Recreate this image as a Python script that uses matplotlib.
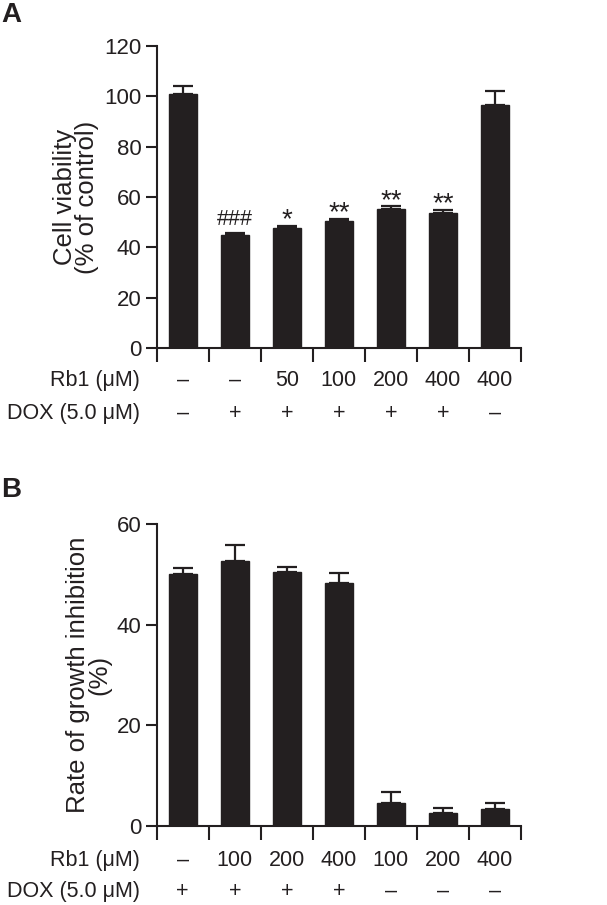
import matplotlib
matplotlib.use("Agg")
import matplotlib.pyplot as plt
import numpy as np

plt.rcParams['font.family'] = ['Liberation Sans', 'DejaVu Sans']

# Panel A data
a_means = [100.8, 45.1, 47.9, 50.6, 55.2, 53.7, 96.5]
a_errs = [3.2, 0.5, 0.6, 0.7, 1.1, 1.3, 5.6]
a_rb1 = ['–', '–', '50', '100', '200', '400', '400']
a_dox = ['–', '+', '+', '+', '+', '+', '–']
a_sig = ['', '###', '*', '**', '**', '**', '']

# Panel B data
b_means = [50.2, 52.8, 50.6, 48.4, 4.6, 2.6, 3.4]
b_errs = [1.2, 3.0, 0.9, 1.9, 2.1, 0.9, 1.1]
b_rb1 = ['–', '100', '200', '400', '100', '200', '400']
b_dox = ['+', '+', '+', '+', '–', '–', '–']

W, H = 607, 905
fig = plt.figure(figsize=(W/100, H/100), dpi=100)
col = '#231f20'

def px_axes(x0, y0, x1, y1):
    return fig.add_axes([x0/W, 1 - y1/H, (x1-x0)/W, (y1-y0)/H])

def draw(ax, means, errs, ymax, yticks, ylabel):
    x = np.arange(len(means))
    ax.bar(x, means, width=0.54, color=col, edgecolor=col, zorder=2)
    ax.errorbar(x, means, yerr=[np.zeros(len(errs)), errs], fmt='none',
                ecolor=col, elinewidth=1.6, capsize=7, capthick=1.6, zorder=1)
    ax.set_xlim(-0.5, len(means) - 0.5)
    ax.set_ylim(0, ymax)
    ax.set_yticks(yticks)
    ax.set_xticks(np.arange(len(means) + 1) - 0.5)
    ax.set_xticklabels([])
    for s in ['top', 'right']:
        ax.spines[s].set_visible(False)
    for s in ['left', 'bottom']:
        ax.spines[s].set_linewidth(1.5)
        ax.spines[s].set_color(col)
    ax.tick_params(axis='y', length=8, width=1.5, labelsize=16, pad=3, colors=col)
    ax.tick_params(axis='x', length=10, width=1.5, colors=col)
    ax.set_ylabel(ylabel, fontsize=18.5, labelpad=4, linespacing=0.85, color=col)

axA = px_axes(156.7, 45.7, 521, 348.3)
draw(axA, a_means, a_errs, 120, [0, 20, 40, 60, 80, 100, 120],
     'Cell viability\n(% of control)')
axB = px_axes(156.7, 524.3, 521, 826)
draw(axB, b_means, b_errs, 60, [0, 20, 40, 60],
     'Rate of growth inhibition\n(%)')

for i, s in enumerate(a_sig):
    if not s:
        continue
    if s.startswith('#'):
        axA.annotate(s, (i, a_means[i] + a_errs[i]), xytext=(0, 6), textcoords='offset points',
                     ha='center', va='baseline', fontsize=15.5, color=col)
    else:
        axA.annotate(s, (i, a_means[i] + a_errs[i]), xytext=(0, -1), textcoords='offset points',
                     ha='center', va='baseline', fontsize=20, color=col)

fig.canvas.draw()

def rows(ax, y_rb1, y_dox, rb1, dox):
    for i in range(len(rb1)):
        xd = ax.transData.transform((i, 0))[0]
        fig.text(xd / W, 1 - y_rb1 / H, rb1[i], ha='center', va='center', fontsize=15.5, color=col)
        fig.text(xd / W, 1 - y_dox / H, dox[i], ha='center', va='center', fontsize=15.5, color=col)
    fig.text(140 / W, 1 - y_rb1 / H, 'Rb1 (μM)', ha='right', va='center', fontsize=15.5, color=col)
    fig.text(140 / W, 1 - y_dox / H, 'DOX (5.0 μM)', ha='right', va='center', fontsize=15.5, color=col)

rows(axA, 380, 413, a_rb1, a_dox)
rows(axB, 860, 891, b_rb1, b_dox)

fig.text(1 / W, 1 - 15 / H, 'A', fontsize=20, fontweight='bold', ha='left', va='center', color=col)
fig.text(1 / W, 1 - 490 / H, 'B', fontsize=20, fontweight='bold', ha='left', va='center', color=col)

fig.savefig('out.png', dpi=100)
